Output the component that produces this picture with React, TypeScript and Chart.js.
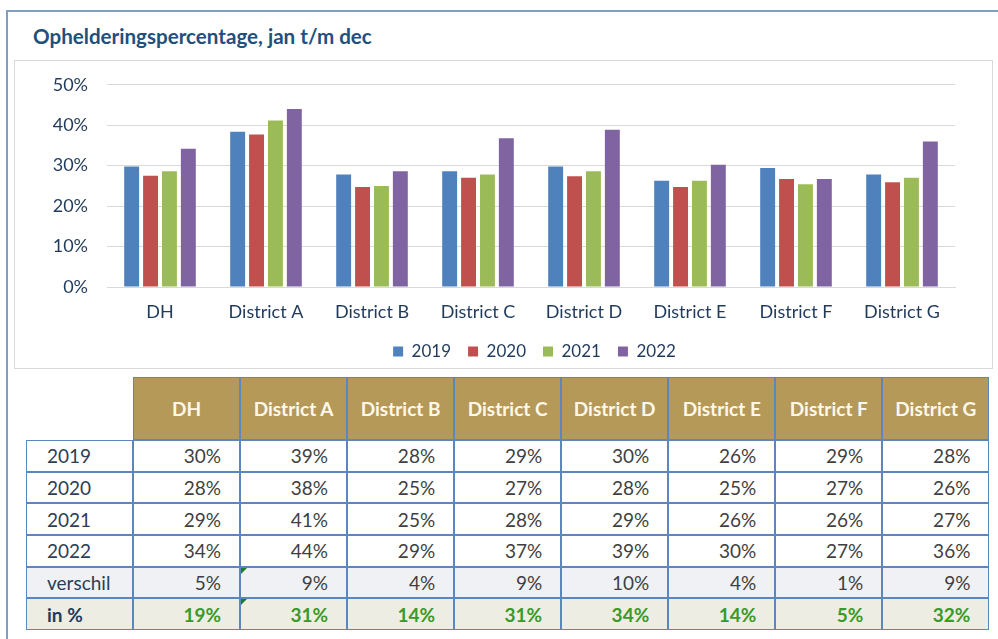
import React, { useEffect, useRef } from "react";
import { Chart, registerables } from "chart.js";

Chart.register(...registerables);

const categories = ["DH", "District A", "District B", "District C", "District D", "District E", "District F", "District G"];
const years = ["2019", "2020", "2021", "2022"];
const values2019 = [29.8, 38.4, 27.8, 28.6, 29.8, 26.3, 29.4, 27.8];
const values2020 = [27.5, 37.7, 24.7, 27.0, 27.4, 24.7, 26.7, 25.9];
const values2021 = [28.6, 41.2, 25.0, 27.8, 28.6, 26.3, 25.4, 27.0];
const values2022 = [34.2, 44.0, 28.6, 36.8, 38.9, 30.2, 26.7, 36.0];
const yTicks = [0, 10, 20, 30, 40, 50];
const colors = ["#4F81BD", "#C0504D", "#9BBB59", "#8064A2"];

const table2019 = ["30%", "39%", "28%", "29%", "30%", "26%", "29%", "28%"];
const table2020 = ["28%", "38%", "25%", "27%", "28%", "25%", "27%", "26%"];
const table2021 = ["29%", "41%", "25%", "28%", "29%", "26%", "26%", "27%"];
const table2022 = ["34%", "44%", "29%", "37%", "39%", "30%", "27%", "36%"];
const tableVerschil = ["5%", "9%", "4%", "9%", "10%", "4%", "1%", "9%"];
const tableInPct = ["19%", "31%", "14%", "31%", "34%", "14%", "5%", "32%"];

const FONT = "Lato, 'Open Sans', sans-serif";
const NAVY = "#1F3A5C";

const shiftLegend = {
  id: "shiftLegend",
  afterLayout(chart: any) {
    const l = chart.legend;
    if (l) { l.left += 50; l.right += 50; }
  },
};

function BarChart() {
  const ref = useRef<HTMLCanvasElement | null>(null);
  useEffect(() => {
    if (!ref.current) return;
    const series = [values2019, values2020, values2021, values2022];
    const chart = new Chart(ref.current, {
      type: "bar",
      data: {
        labels: categories,
        datasets: years.map((y, i) => ({
          label: y,
          data: series[i],
          backgroundColor: colors[i],
          borderWidth: 0,
          categoryPercentage: 0.713,
          barPercentage: 0.79,
        })),
      },
      options: {
        animation: false,
        responsive: false,
        maintainAspectRatio: false,
        layout: { padding: { left: 0, right: 38, top: 20, bottom: 0 } },
        plugins: {
          tooltip: { enabled: false },
          legend: {
            position: "bottom",
            labels: {
              boxWidth: 10,
              boxHeight: 10,
              padding: 17,
              color: NAVY,
              font: { family: FONT, size: 17 },
            },
          },
        },
        scales: {
          x: {
            grid: { display: false, drawTicks: false },
            border: { display: true, color: "#D9D9D9", width: 1 },
            ticks: { color: NAVY, padding: 14, font: { family: FONT, size: 18 } },
            afterFit: (s: any) => { s.height = 39; },
          },
          y: {
            min: 0,
            max: 50,
            afterBuildTicks: (s: any) => { s.ticks = yTicks.map((v) => ({ value: v })); },
            grid: { color: "#D9D9D9", lineWidth: 1, drawTicks: false },
            border: { display: false },
            ticks: {
              color: NAVY,
              padding: 19,
              font: { family: FONT, size: 18 },
              callback: (v: any) => v + "%",
            },
            afterFit: (s: any) => { s.width = 93; },
          },
        },
      },
      plugins: [shiftLegend],
    });
    return () => chart.destroy();
  }, []);
  return <canvas ref={ref} width={979} height={315} style={{ position: "absolute", left: 14, top: 55, width: 979, height: 315 }} />;
}

const COL_X0 = 133;
const COL_W = 107.05;
const LABEL_X0 = 26;
const HEADER_TOP = 377;
const HEADER_H = 63;
const ROW_H = 31.67;
const BORDER = "#5B87BE";
const TFS = 19;

export default function App() {
  const rows = [
    { label: "2019", vals: table2019, bg: "#FFFFFF", bold: false, color: "#3F3F3F", labelColor: "#2C3E55" },
    { label: "2020", vals: table2020, bg: "#FFFFFF", bold: false, color: "#3F3F3F", labelColor: "#2C3E55" },
    { label: "2021", vals: table2021, bg: "#FFFFFF", bold: false, color: "#3F3F3F", labelColor: "#2C3E55" },
    { label: "2022", vals: table2022, bg: "#FFFFFF", bold: false, color: "#3F3F3F", labelColor: "#2C3E55" },
    { label: "verschil", vals: tableVerschil, bg: "#EFF1F5", bold: false, color: "#3F3F3F", labelColor: "#2C3E55" },
    { label: "in %", vals: tableInPct, bg: "#EEEDE4", bold: true, color: "#3A9A28", labelColor: "#1F3A5C" },
  ];
  const cells: React.ReactNode[] = [];
  categories.forEach((c, j) => {
    cells.push(
      <div key={"h" + j} style={{
        position: "absolute", left: COL_X0 + j * COL_W, top: HEADER_TOP, width: COL_W, height: HEADER_H,
        background: "#B59958", border: `1px solid ${BORDER}`, boxSizing: "border-box",
        display: "flex", alignItems: "center", justifyContent: "center",
        color: "#FFF8EA", fontWeight: 700, fontSize: TFS, fontFamily: FONT, whiteSpace: "nowrap",
      }}>{c}</div>
    );
  });
  rows.forEach((r, i) => {
    const top = HEADER_TOP + HEADER_H + i * ROW_H;
    cells.push(
      <div key={"l" + i} style={{
        position: "absolute", left: LABEL_X0, top, width: COL_X0 - LABEL_X0, height: ROW_H,
        background: r.bg, border: `1px solid ${BORDER}`, boxSizing: "border-box",
        display: "flex", alignItems: "center", paddingLeft: 20,
        color: r.labelColor, fontWeight: r.bold ? 700 : 400, fontSize: TFS, fontFamily: FONT,
      }}>{r.label}</div>
    );
    r.vals.forEach((v, j) => {
      cells.push(
        <div key={"c" + i + "-" + j} style={{
          position: "absolute", left: COL_X0 + j * COL_W, top, width: COL_W, height: ROW_H,
          background: r.bg, border: `1px solid ${BORDER}`, boxSizing: "border-box",
          display: "flex", alignItems: "center", justifyContent: "flex-end", paddingRight: 18,
          color: r.color, fontWeight: r.bold ? 700 : 400, fontSize: TFS, fontFamily: FONT,
        }}>{v}</div>
      );
    });
  });
  [4, 5].forEach((i) => {
    const top = HEADER_TOP + HEADER_H + i * ROW_H + 1;
    cells.push(
      <div key={"t" + i} style={{
        position: "absolute", left: COL_X0 + COL_W + 1, top, width: 0, height: 0,
        borderTop: "6px solid #1E7B2E", borderRight: "6px solid transparent",
      }} />
    );
  });

  return (
    <div style={{ position: "absolute", left: 0, top: 0, width: 998, height: 639, overflow: "hidden", background: "#FFFFFF" }}>
      <div style={{
        position: "absolute", left: 6, top: 10, width: 1100, height: 700,
        border: "2px solid #7F9FC4", boxSizing: "border-box",
      }} />
      <div style={{
        position: "absolute", left: 33, top: 23, color: "#21507E", fontFamily: FONT,
        fontWeight: 700, fontSize: 20.6, lineHeight: "26px", whiteSpace: "nowrap",
      }}>Ophelderingspercentage, jan t/m dec</div>
      <div style={{
        position: "absolute", left: 14, top: 60, width: 979, height: 309,
        border: "1px solid #D9D9D9", boxSizing: "border-box",
      }} />
      <BarChart />
      {cells}
    </div>
  );
}
